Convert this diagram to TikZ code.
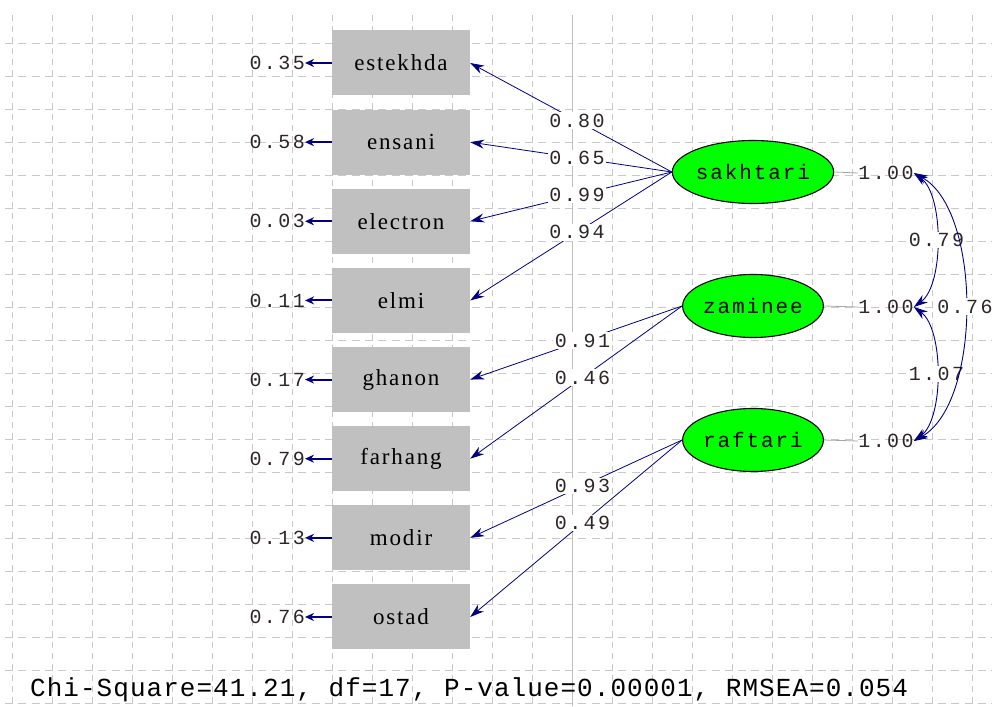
\documentclass[tikz,border=0pt]{standalone}
\usepackage{fontspec}
\setmainfont{Liberation Serif}
\newfontfamily\numfam[LetterSpace=12]{Liberation Mono}
\newfontfamily\latfam[LetterSpace=9]{Liberation Mono}
\newfontfamily\boxfam[LetterSpace=8]{Liberation Serif}
\newfontfamily\fitfam[LetterSpace=4]{Liberation Mono}
\usetikzlibrary{arrows.meta,shapes.geometric}
\definecolor{pathblue}{HTML}{000080}
\definecolor{gridgray}{HTML}{C8C8C8}
\definecolor{boxgray}{HTML}{C0C0C0}
\definecolor{numcol}{HTML}{2E2626}
\begin{document}
\begin{tikzpicture}[x=1pt,y=-1pt,
  gridh/.style={gridgray,line width=0.9pt,dash pattern=on 8pt off 5.33pt},
  gridv/.style={gridgray,line width=0.9pt,dash pattern=on 6pt off 5pt},
  obs/.style={fill=boxgray,draw=none,minimum width=138pt,minimum height=65pt,inner sep=0pt,
    font=\boxfam\fontsize{23}{25}\selectfont},
  lat/.style={ellipse,fill=green,draw=black,line width=1.1pt,minimum width=137pt,minimum height=63pt,inner sep=0pt,
    font=\latfam\fontsize{21}{23}\selectfont},
  num/.style={text=numcol,inner sep=1pt,font=\numfam\fontsize{20}{22}\selectfont},
  plabel/.style={num,fill=white,inner sep=1.5pt},
  loading/.style={pathblue,line width=0.8pt,-{Stealth[length=14pt,width=9pt]}},
  errarrow/.style={pathblue,line width=2pt,-{Stealth[length=9pt,width=8pt]}},
  covarrow/.style={pathblue,line width=0.9pt,{Stealth[length=14pt,width=9pt]}-{Stealth[length=14pt,width=9pt]}},
  varline/.style={gray!70,line width=0.8pt}
]
\useasboundingbox (0,0) rectangle (992,706);
% grid
\foreach \k in {0,...,20} {\draw[gridh] (5,{43+33*\k}) -- (992,{43+33*\k});}
\foreach \k in {0,...,24} {\draw[gridv] ({12+40*\k},15) -- ({12+40*\k},706);}
\draw[gray!50,line width=0.9pt] (572,15) -- (572,706);

% observed variables
\foreach \n/\t/\e [count=\i from 0] in {b1/estekhda/0.35,b2/ensani/0.58,b3/electron/0.03,b4/elmi/0.11,
  b5/ghanon/0.17,b6/farhang/0.79,b7/modir/0.13,b8/ostad/0.76} {
  \node[obs] (\n) at (401,{63+79.14*\i}) {\t};
  \node[num,anchor=east,inner sep=0pt] (e\n) at (305,{63+79.14*\i}) {\e};
  \draw[errarrow] (\n.west) -- (e\n.east);
}

% latent variables
\node[lat] (L1) at (753,172) {sakhtari};
\node[lat] (L2) at (753,306) {zaminee};
\node[lat] (L3) at (753,440) {raftari};

\node[num,inner sep=0pt] (v1) at (886,173) {1.00};
\node[num,inner sep=0pt] (v2) at (886,307) {1.00};
\node[num,inner sep=0pt] (v3) at (886,441) {1.00};
\draw[varline] (L1.east) -- (v1.west);
\draw[varline] (L2.east) -- (v2.west);
\draw[varline] (L3.east) -- (v3.west);

% loadings
\draw[loading] (L1.west) -- node[plabel,pos=0.47] {0.80} (b1.east);
\draw[loading] (L1.west) -- node[plabel,pos=0.47] {0.65} (b2.east);
\draw[loading] (L1.west) -- node[plabel,pos=0.47] {0.99} (b3.east);
\draw[loading] (L1.west) -- node[plabel,pos=0.47] {0.94} (b4.east);
\draw[loading] (L2.west) -- node[plabel,pos=0.47] {0.91} (b5.east);
\draw[loading] (L2.west) -- node[plabel,pos=0.47] {0.46} (b6.east);
\draw[loading] (L3.west) -- node[plabel,pos=0.47] {0.93} (b7.east);
\draw[loading] (L3.west) -- node[plabel,pos=0.47] {0.49} (b8.east);

% covariances
\draw[covarrow] (v1.east) .. controls (944,195) and (944,285) .. node[plabel,pos=0.5] {0.79} (v2.east);
\draw[covarrow] (v2.east) .. controls (944,329) and (944,419) .. node[plabel,pos=0.5] {1.07} (v3.east);
\draw[covarrow] (v1.east) .. controls (982,210) and (982,403) .. node[plabel,pos=0.5] {0.76} (v3.east);

% fit
\node[anchor=west,inner sep=0pt,text=black,font=\fitfam\fontsize{26}{28}\selectfont] (fit) at (30,690)
  {Chi-Square=41.21, df=17, P-value=0.00001, RMSEA=0.054};
\end{tikzpicture}
\end{document}
